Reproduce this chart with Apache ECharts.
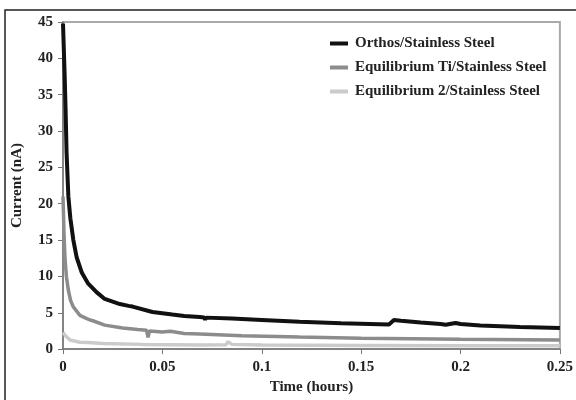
<!DOCTYPE html>
<html>
<head>
<meta charset="utf-8">
<script src="https://cdn.jsdelivr.net/npm/echarts@6/dist/echarts.min.js"></script>
<style>
html,body{margin:0;padding:0;background:#fff;}
#chart{width:576px;height:400px;}
</style>
</head>
<body>
<div id="chart"></div>
<script>
var seriesNames = ['Orthos/Stainless Steel', 'Equilibrium Ti/Stainless Steel', 'Equilibrium 2/Stainless Steel'];
var xTicks = [0, 0.05, 0.1, 0.15, 0.2, 0.25];
var yTicks = [0, 5, 10, 15, 20, 25, 30, 35, 40, 45];

var orthos = [
  [0, 44.8], [0.0008, 38], [0.0013, 33], [0.0018, 27], [0.0027, 21], [0.0037, 18],
  [0.0052, 15], [0.0069, 12.6], [0.0095, 10.5], [0.0127, 9.0], [0.017, 7.8], [0.021, 6.9],
  [0.0286, 6.2], [0.033, 5.95], [0.034, 6.15], [0.035, 5.85], [0.045, 5.1], [0.055, 4.75],
  [0.061, 4.55], [0.0688, 4.42], [0.071, 4.36], [0.0715, 4.05], [0.072, 4.33], [0.085, 4.2], [0.1, 4.0],
  [0.119, 3.75], [0.14, 3.55], [0.164, 3.4], [0.1665, 4.0], [0.17, 3.9], [0.18, 3.65],
  [0.19, 3.45], [0.1925, 3.35], [0.1975, 3.6], [0.2, 3.45], [0.21, 3.25], [0.23, 3.05],
  [0.25, 2.9]
];
var equiTi = [
  [0, 21], [0.0005, 16], [0.001, 12.5], [0.0017, 10], [0.0027, 8.1], [0.0038, 6.7],
  [0.0052, 5.8], [0.0085, 4.65], [0.012, 4.2], [0.0136, 4.0], [0.0144, 4.2], [0.015, 3.9],
  [0.021, 3.3], [0.03, 2.9], [0.0376, 2.7], [0.042, 2.6], [0.0428, 1.6], [0.0435, 2.5],
  [0.05, 2.35], [0.054, 2.45], [0.061, 2.15], [0.0688, 2.07], [0.09, 1.85], [0.119, 1.65],
  [0.15, 1.5], [0.2, 1.35], [0.25, 1.25]
];
var equi2 = [
  [0, 2.3], [0.001, 1.9], [0.0035, 1.25], [0.0085, 0.95], [0.0126, 0.9], [0.02, 0.78],
  [0.04, 0.65], [0.0688, 0.57], [0.082, 0.6], [0.083, 1.0], [0.085, 0.65], [0.1, 0.55],
  [0.15, 0.5], [0.2, 0.45], [0.25, 0.45]
];

var font = 'Liberation Serif';
var chart = echarts.init(document.getElementById('chart'));
chart.setOption({
  animation: false,
  backgroundColor: '#fff',
  graphic: [{
    type: 'rect',
    shape: { x: 5, y: 10, width: 620, height: 420 },
    style: { fill: 'none', stroke: '#222', lineWidth: 1.5 },
    silent: true,
    z: -1
  }],
  grid: { left: 63, right: 15, top: 22, bottom: 48, show: true, borderColor: '#aaa', borderWidth: 2, backgroundColor: 'transparent' },
  legend: {
    orient: 'vertical',
    left: 325,
    top: 31,
    itemGap: 9,
    itemWidth: 18,
    itemHeight: 4,
    icon: 'rect',
    textStyle: { fontFamily: font, fontWeight: 'bold', fontSize: 15, color: '#222', padding: [0, 0, 0, 2] },
    data: seriesNames
  },
  xAxis: {
    type: 'value',
    min: 0,
    max: 0.25,
    interval: 0.05,
    name: 'Time (hours)',
    nameLocation: 'middle',
    nameGap: 29,
    nameTextStyle: { fontFamily: font, fontWeight: 'bold', fontSize: 15, color: '#222' },
    axisLine: { show: true, lineStyle: { color: '#777', width: 1.5 } },
    axisTick: { show: true, length: 5, lineStyle: { color: '#777' } },
    splitLine: { show: false },
    axisLabel: {
      fontFamily: font, fontWeight: 'bold', fontSize: 15, color: '#222', margin: 11,
      formatter: function (v) {
        for (var i = 0; i < xTicks.length; i++) if (Math.abs(v - xTicks[i]) < 1e-9) return String(xTicks[i]);
        return '';
      }
    }
  },
  yAxis: {
    type: 'value',
    min: yTicks[0],
    max: yTicks[yTicks.length - 1],
    interval: 5,
    name: 'Current (nA)',
    nameLocation: 'middle',
    nameGap: 38,
    nameTextStyle: { fontFamily: font, fontWeight: 'bold', fontSize: 15, color: '#222' },
    axisLine: { show: true, lineStyle: { color: '#777', width: 1.5 } },
    axisTick: { show: true, length: 5, lineStyle: { color: '#777' } },
    splitLine: { show: false },
    axisLabel: { fontFamily: font, fontWeight: 'bold', fontSize: 15, color: '#222', margin: 10 }
  },
  series: [
    { name: seriesNames[2], type: 'line', data: equi2, showSymbol: false, symbol: 'none',
      lineStyle: { color: '#cbcbcb', width: 3.5 }, itemStyle: { color: '#cbcbcb' }, z: 2 },
    { name: seriesNames[1], type: 'line', data: equiTi, showSymbol: false, symbol: 'none',
      lineStyle: { color: '#8c8c8c', width: 3.5 }, itemStyle: { color: '#8c8c8c' }, z: 3 },
    { name: seriesNames[0], type: 'line', data: orthos, showSymbol: false, symbol: 'none',
      lineStyle: { color: '#111', width: 4 }, itemStyle: { color: '#111' }, z: 4 }
  ]
});
</script>
</body>
</html>
